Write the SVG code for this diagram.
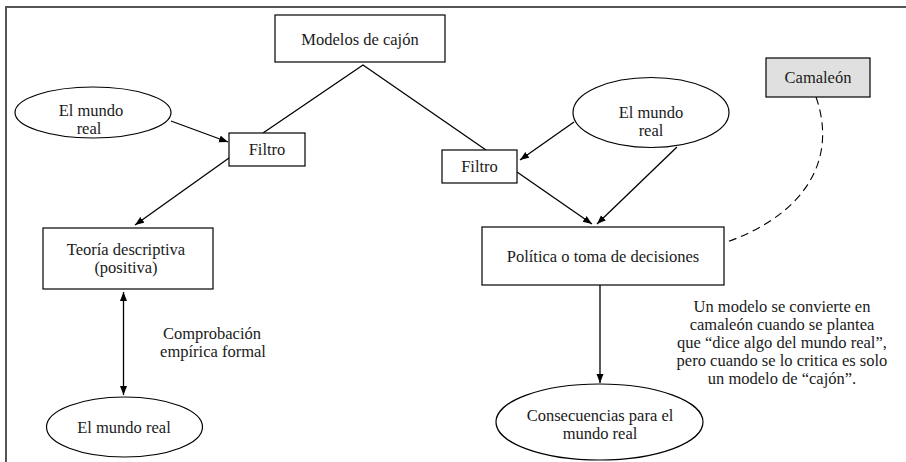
<svg xmlns="http://www.w3.org/2000/svg" width="906" height="462" viewBox="0 0 906 462">
<defs>
<marker id="ah" markerUnits="userSpaceOnUse" markerWidth="10" markerHeight="8" refX="9" refY="3.5" orient="auto-start-reverse">
<path d="M0,0 L9,3.5 L0,7 z" fill="#000"/>
</marker>
<style>
.box{fill:#fff;stroke:#000;stroke-width:1.2}
.gbox{fill:#e0e0e0;stroke:#000;stroke-width:1.2}
.ell{fill:#fff;stroke:#000;stroke-width:1.2}
text{font-family:"Liberation Serif",Tinos,"Times New Roman",Times,"Noto Serif","DejaVu Serif",FreeSerif,serif;font-size:16.5px;fill:#1a1a1a;text-anchor:middle}
.ln{fill:none;stroke:#000;stroke-width:1.3}
.ar{fill:none;stroke:#000;stroke-width:1.3;marker-end:url(#ah)}
.da{fill:none;stroke:#000;stroke-width:1.1;stroke-dasharray:8 5}
</style>
</defs>
<rect width="906" height="462" fill="#fff"/>
<path d="M6,462 V7 H906" fill="none" stroke="#555" stroke-width="2"/>

<g id="connectors">
<polyline class="ln" points="263,133 363,65 486,150"/>
<line class="ar" x1="171" y1="121" x2="228" y2="142"/>
<line class="ar" x1="229" y1="158" x2="135" y2="225"/>
<line class="ar" x1="574" y1="122" x2="520" y2="160"/>
<line class="ar" x1="517" y1="172" x2="592" y2="224"/>
<line class="ar" x1="677" y1="147" x2="597" y2="224"/>
<line class="ar" x1="123.5" y1="292" x2="123.5" y2="395" marker-start="url(#ah)"/>
<line class="ar" x1="600" y1="285" x2="600" y2="383"/>
<path class="da" d="M816,97 C838,160 805,215 724,243"/>
</g>

<g id="modelos">
<rect class="box" x="275" y="15" width="170" height="47"/>
<text x="360" y="45">Modelos de cajón</text>
</g>

<g id="mundo-izq">
<ellipse class="ell" cx="93" cy="112.5" rx="78" ry="25.5"/>
<text x="91" y="116">El mundo</text>
<text x="89" y="134">real</text>
</g>

<g id="filtro-izq">
<rect class="box" x="229" y="133" width="76" height="33"/>
<text x="267" y="155">Filtro</text>
</g>

<g id="teoria">
<rect class="box" x="43" y="228" width="170" height="61"/>
<text x="126" y="255">Teoría descriptiva</text>
<text x="126" y="273">(positiva)</text>
</g>

<g id="comprobacion">
<text x="212" y="339">Comprobación</text>
<text x="213" y="357">empírica formal</text>
</g>

<g id="mundo-abajo">
<ellipse class="ell" cx="124.5" cy="427" rx="78" ry="30"/>
<text x="124" y="433">El mundo real</text>
</g>

<g id="filtro-der">
<rect class="box" x="442" y="150" width="75" height="33"/>
<text x="479.5" y="172">Filtro</text>
</g>

<g id="mundo-der">
<ellipse class="ell" cx="651" cy="112.5" rx="78" ry="35"/>
<text x="651" y="118">El mundo</text>
<text x="651" y="136">real</text>
</g>

<g id="camaleon">
<rect class="gbox" x="766" y="58" width="104" height="39"/>
<text x="818" y="83">Camaleón</text>
</g>

<g id="politica">
<rect class="box" x="482" y="227" width="242" height="58"/>
<text x="603" y="262">Política o toma de decisiones</text>
</g>

<g id="consecuencias">
<ellipse class="ell" cx="599.5" cy="422" rx="103.5" ry="38"/>
<text x="600" y="421">Consecuencias para el</text>
<text x="600" y="439">mundo real</text>
</g>

<g id="nota">
<text x="782" y="312">Un modelo se convierte en</text>
<text x="782" y="330">camaleón cuando se plantea</text>
<text x="782" y="348">que “dice algo del mundo real”,</text>
<text x="782" y="366">pero cuando se lo critica es solo</text>
<text x="782" y="384">un modelo de “cajón”.</text>
</g>
</svg>
